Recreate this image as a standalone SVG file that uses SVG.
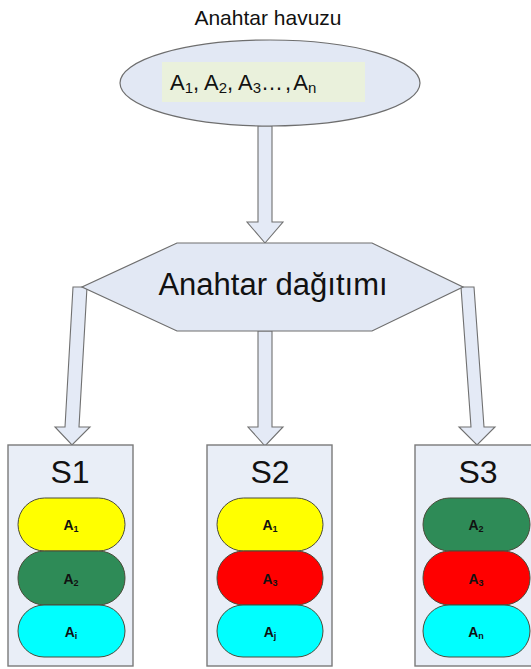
<svg xmlns="http://www.w3.org/2000/svg" width="531" height="669" viewBox="0 0 531 669">
  <defs>
    <style>
      text { font-family: "Liberation Sans", Arial, sans-serif; fill: #111; }
      .shape { fill: #e2e8f4; stroke: #6e6e6e; stroke-width: 1.2; }
      .arrow { fill: #e4eaf6; stroke: #707070; stroke-width: 1.1; stroke-linejoin: miter; }
      .box { fill: #e9eef7; stroke: #7a7a7a; stroke-width: 1.4; }
      .pill { stroke: #4b4b3a; stroke-width: 1; }
      .yellow { fill: #ffff00; }
      .green { fill: #2e8b57; }
      .red { fill: #ff0000; }
      .cyan { fill: #00ffff; }
      .key { font-size: 14px; font-weight: bold; text-anchor: middle; }
      .sub { font-size: 9px; }
      .poolsub { font-size: 15px; }
      .slabel { font-size: 32px; text-anchor: middle; }
    </style>
  </defs>

  <rect width="531" height="669" fill="#ffffff"/>

  <!-- connectors -->
  <g id="connectors">
    <!-- pool to distribution -->
    <polygon class="arrow" points="258,126 272,126 272,222 283,222 265,243 247,222 258,222"/>
    <!-- distribution to S2 -->
    <polygon class="arrow" points="258,331 272,331 272,427 283,427 265,446 248,427 258,427"/>
    <!-- distribution to S1 -->
    <polygon class="arrow" points="73,287 87,287 79,427 90,427 72,445 55,427 65,427"/>
    <!-- distribution to S3 -->
    <polygon class="arrow" points="461,287 474,287 484,427 495,427 477,445 459,427 471,427"/>
  </g>

  <!-- key pool -->
  <g id="pool">
    <text x="268" y="25" font-size="21" text-anchor="middle">Anahtar havuzu</text>
    <ellipse class="shape" cx="270" cy="83" rx="150" ry="43"/>
    <rect x="162" y="62" width="203" height="40" fill="#eaf1dc"/>
    <text x="170" y="90" font-size="22">A<tspan class="poolsub" dy="3">1</tspan><tspan dy="-3">, A</tspan><tspan class="poolsub" dy="3">2</tspan><tspan dy="-3">, A</tspan><tspan class="poolsub" dy="3">3</tspan><tspan dy="-3" letter-spacing="2">…,</tspan><tspan>A</tspan><tspan class="poolsub" dy="3">n</tspan></text>
  </g>

  <!-- key distribution -->
  <g id="distribution">
    <polygon class="shape" points="177,243 372,243 463,287 372,331 177,331 82,287"/>
    <text x="273" y="295" font-size="31" text-anchor="middle">Anahtar dağıtımı</text>
  </g>

  <!-- node S1 -->
  <g id="s1">
    <rect class="box" x="8" y="445" width="125" height="221"/>
    <text class="slabel" x="70" y="483">S1</text>
    <rect class="pill yellow" x="18" y="498" width="107" height="53" rx="26.5"/>
    <rect class="pill green" x="18" y="551" width="107" height="54" rx="26.5"/>
    <rect class="pill cyan" x="18" y="605" width="107" height="52" rx="26"/>
    <text class="key" x="71" y="530">A<tspan class="sub" dy="2">1</tspan></text>
    <text class="key" x="71" y="584">A<tspan class="sub" dy="2">2</tspan></text>
    <text class="key" x="71" y="637">A<tspan class="sub" dy="2">i</tspan></text>
  </g>

  <!-- node S2 -->
  <g id="s2">
    <rect class="box" x="207" y="445" width="125" height="221"/>
    <text class="slabel" x="270" y="483">S2</text>
    <rect class="pill yellow" x="217" y="498" width="106" height="53" rx="26.5"/>
    <rect class="pill red" x="217" y="551" width="106" height="54" rx="26.5"/>
    <rect class="pill cyan" x="217" y="605" width="106" height="52" rx="26"/>
    <text class="key" x="270" y="530">A<tspan class="sub" dy="2">1</tspan></text>
    <text class="key" x="270" y="584">A<tspan class="sub" dy="2">3</tspan></text>
    <text class="key" x="270" y="637">A<tspan class="sub" dy="2">j</tspan></text>
  </g>

  <!-- node S3 -->
  <g id="s3">
    <rect class="box" x="415" y="445" width="125" height="221"/>
    <text class="slabel" x="478" y="483">S3</text>
    <rect class="pill green" x="423" y="498" width="107" height="53" rx="26.5"/>
    <rect class="pill red" x="423" y="551" width="107" height="54" rx="26.5"/>
    <rect class="pill cyan" x="423" y="605" width="107" height="52" rx="26"/>
    <text class="key" x="476" y="530">A<tspan class="sub" dy="2">2</tspan></text>
    <text class="key" x="476" y="584">A<tspan class="sub" dy="2">3</tspan></text>
    <text class="key" x="476" y="637">A<tspan class="sub" dy="2">n</tspan></text>
  </g>
</svg>
